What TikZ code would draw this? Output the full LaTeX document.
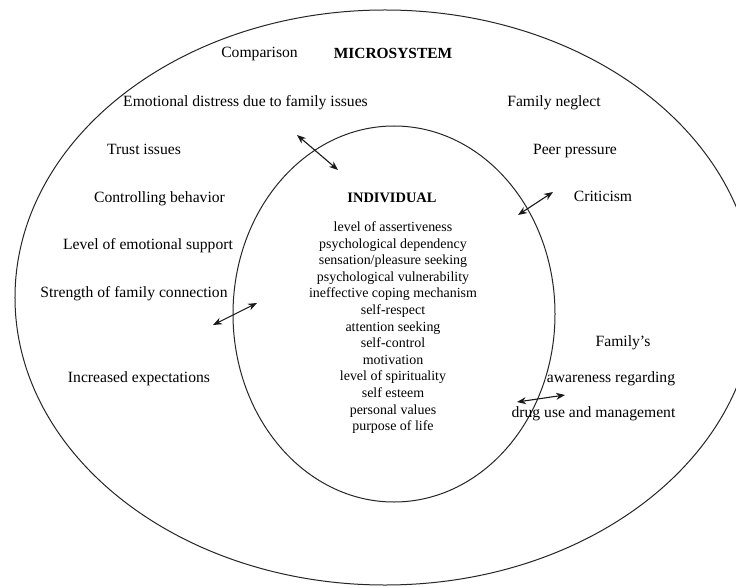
\documentclass[tikz,border=0pt]{standalone}
\usepackage{fontspec}
\setmainfont{Liberation Serif}
\usetikzlibrary{arrows.meta,shapes.geometric}
\begin{document}
\begin{tikzpicture}[x=1bp,y=-1bp,
  ring/.style={ellipse, draw=black!85, line width=1bp, inner sep=0pt},
  lbl/.style={inner sep=0pt, anchor=base, font=\fontsize{15.7}{18}\selectfont},
  headlbl/.style={inner sep=0pt, anchor=base, font=\fontsize{15.5}{18}\selectfont\bfseries},
  trait/.style={inner sep=0pt, anchor=base, font=\fontsize{14}{16}\selectfont},
  link/.style={draw=black!90, line width=1.1bp,
    {Stealth[length=9bp,width=7bp]}-{Stealth[length=9bp,width=7bp]}}]
\useasboundingbox (0,0) rectangle (736,588);
\clip (0,0) rectangle (736,588);
\fill[white] (0,0) rectangle (736,588);

% the two nested systems
\node[ring, minimum width=740bp, minimum height=575bp] (micro) at (385,297.5) {};
\node[ring, minimum width=322bp, minimum height=376bp] (indiv) at (394,314) {};

% headings
\node[headlbl] (microhead) at (393,58.2) {MICROSYSTEM};
\node[headlbl, font=\fontsize{14.5}{17}\selectfont\bfseries] (indivhead) at (392,203) {INDIVIDUAL};

% microsystem factors
\node[lbl] (comparison) at (259.5,57.5) {Comparison};
\node[lbl] (distress) at (245.5,106.5) {Emotional distress due to family issues};
\node[lbl] (neglect) at (554,106.5) {Family neglect};
\node[lbl] (trust) at (144,154.5) {Trust issues};
\node[lbl] (peer) at (575,154.5) {Peer pressure};
\node[lbl] (control) at (159.5,202.5) {Controlling behavior};
\node[lbl] (criticism) at (603,201.5) {Criticism};
\node[lbl] (support) at (148,249.5) {Level of emotional support};
\node[lbl] (connection) at (134,297.5) {Strength of family connection};
\node[lbl] (expect) at (139,382.5) {Increased expectations};
\node[lbl] (famA) at (623,346.5) {Family’s};
\node[lbl] (famB) at (611,382.5) {awareness regarding};
\node[lbl] (famC) at (593.5,417.5) {drug use and management};

% individual factors
\foreach \t [count=\i] in {level of assertiveness, psychological dependency,
  sensation/pleasure seeking, psychological vulnerability,
  ineffective coping mechanism, self-respect, attention seeking, self-control,
  motivation, level of spirituality, self esteem, personal values, purpose of life}
  \node[trait] (trait\i) at (393,{231.5+(\i-1)*16.6}) {\t};

% two-way interactions across the boundary
\coordinate (a1) at (297,135); \coordinate (b1) at (338,170);
\coordinate (a2) at (213,325); \coordinate (b2) at (257,303);
\coordinate (a3) at (518,215); \coordinate (b3) at (553,192);
\coordinate (a4) at (517,402); \coordinate (b4) at (565,395);
\draw[link] (a1) -- (b1);
\draw[link] (a2) -- (b2);
\draw[link] (a3) -- (b3);
\draw[link] (a4) -- (b4);
\end{tikzpicture}
\end{document}
